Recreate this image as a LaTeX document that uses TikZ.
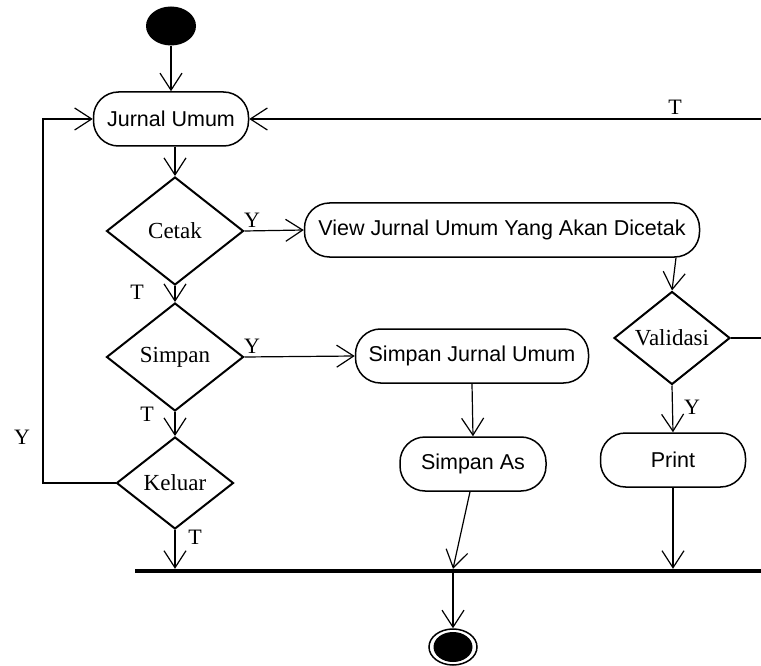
\documentclass[tikz,border=0pt]{standalone}
\usepackage{fontspec}
\setmainfont{Liberation Serif}
\setsansfont{Liberation Sans}
\usetikzlibrary{positioning}
\usetikzlibrary{arrows.meta}
\usetikzlibrary{shapes.geometric}
\tikzset{>={Straight Barb[length=17pt,width=22pt]}}
\tikzset{act/.style={draw, rounded corners=25pt, minimum height=54pt, line width=1.5pt, inner sep=0pt, font=\sffamily\fontsize{21.5}{24}\selectfont}}
\tikzset{dec/.style={draw, diamond, inner sep=0pt, line width=2pt, font=\fontsize{23}{26}\selectfont}}
\tikzset{lbl/.style={inner sep=0pt, font=\fontsize{22}{24}\selectfont}}
\tikzset{flow/.style={line width=1.2pt}}

\begin{document}
\begin{tikzpicture}[x=1pt,y=-1pt]
\useasboundingbox (0,0) rectangle (761,666);

%%% Nodes:

\node[ellipse, fill, minimum width=50pt, minimum height=39pt, inner sep=0pt] (start) at (171,26) {};
\node[act, minimum width=155pt] (jurnal) at (171,119) {Jurnal Umum};

\node[dec, minimum width=137pt, minimum height=108pt] (cetak) at (175,231) {Cetak};
\node[act, minimum width=395pt] (view) at (502,230) {View Jurnal Umum Yang Akan Dicetak};

\node[dec, minimum width=137pt, minimum height=108pt] (simpan) at (175,357) {Simpan};
\node[act, minimum width=233pt] (sjurnal) at (472,356) {Simpan Jurnal Umum};
\node[act, minimum width=146pt] (sas) at (473,464) {Simpan As};

\node[dec, minimum width=116pt, minimum height=93pt] (validasi) at (672,338) {Validasi};
\node[act, minimum width=145pt] (print) at (673,460) {Print};

\node[dec, minimum width=117pt, minimum height=92pt] (keluar) at (175,483) {Keluar};

\node[fill, inner sep=0pt, minimum width=626pt, minimum height=4pt] (bar) at (448,571) {};
\node[draw, ellipse, line width=1.5pt, minimum width=48pt, minimum height=36pt, inner sep=0pt,
  path picture={\fill (path picture bounding box.center) ellipse (19.5pt and 15pt);}] (final) at (453,647) {};

\coordinate (eT) at (761,119);
\coordinate (eV) at (761,338);
\coordinate (lp) at (43,483);

%%% Flows:

\draw[flow,->] (start) -- (jurnal);
\draw[flow,->] (jurnal.south -| cetak.north) -- (cetak.north);
\draw[flow,->] (eT) -- (jurnal.east);
\node[lbl] (tT) at (675,107) {T};

\draw[flow,->] (cetak.east) -- (view.west);
\node[lbl] (yC) at (252,220) {Y};
\draw[flow,->] ([xshift=4pt]view.south -| validasi.north) -- (validasi.north);
\draw[flow] (validasi.east) -- (eV);
\draw[flow,->] (validasi.south) -- (print.north);
\node[lbl] (yV) at (692,407) {Y};

\draw[flow,->] (cetak.south) -- (simpan.north);
\node[lbl] (tC) at (137,292) {T};
\draw[flow,->] (simpan.east) -- (sjurnal.west);
\node[lbl] (yS) at (252,346) {Y};
\draw[flow,->] (sjurnal.south) -- (sas.north);

\draw[flow,->] (simpan.south) -- (keluar.north);
\node[lbl] (tS) at (147,414) {T};
\draw[flow,->] (keluar.west) -- (lp) |- (jurnal.west);
\node[lbl] (yK) at (22,437) {Y};

%%% Join:

\draw[flow,->] (keluar.south) -- (bar.north -| keluar.south);
\node[lbl] (tK) at (195,537) {T};
\draw[flow,->] ([xshift=-3pt]sas.south) -- (bar.north -| final.north);
\draw[flow,->] (print.south) -- (bar.north -| print.south);
\draw[flow,->] (bar.south -| final.north) -- (final.north);

\end{tikzpicture}
\end{document}
